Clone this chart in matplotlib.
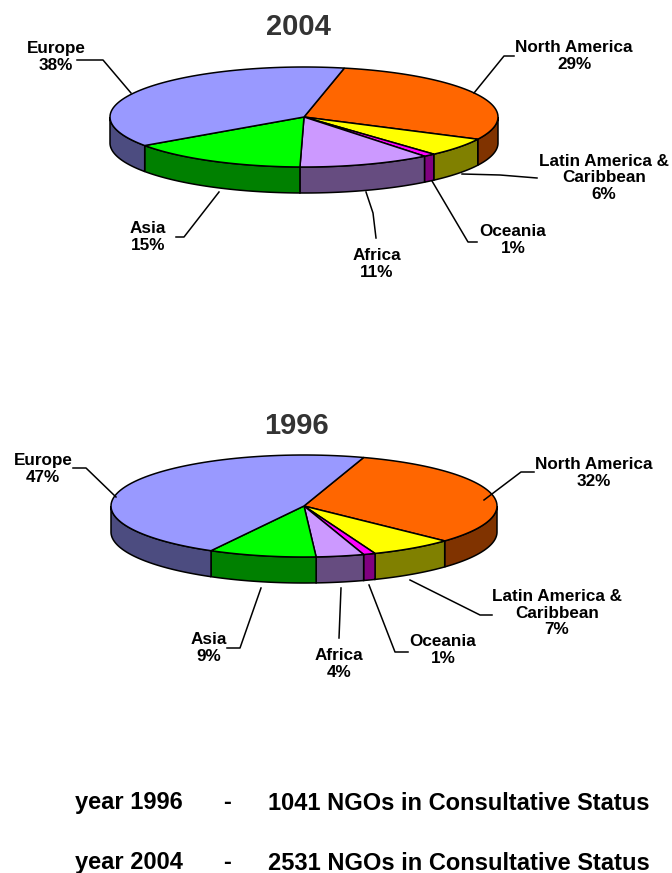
import numpy as np
import matplotlib
matplotlib.use('Agg')
import matplotlib.pyplot as plt
from matplotlib.patches import Polygon

plt.rcParams['font.family'] = ['Liberation Sans', 'DejaVu Sans']

# slices go clockwise starting at North America
regions = ['North America', 'Latin America &\nCaribbean', 'Oceania', 'Africa', 'Asia', 'Europe']
share_2004 = [29, 6, 1, 11, 15, 38]
share_1996 = [32, 7, 1, 4, 9, 47]
top_colors = ['#FF6600', '#FFFF00', '#FF00FF', '#CC99FF', '#00FF00', '#9999FF']
side_colors = ['#803300', '#808000', '#800080', '#664C80', '#008000', '#4C4C80']
years = ['1996', '2004']
ngo_counts = [1041, 2531]


def ell(cx, cy, rx, ry, deg, drop=0):
    a = np.radians(deg)
    return np.column_stack([cx + rx * np.cos(a), cy - ry * np.sin(a) + drop])


def pie3d(ax, shares, cx, cy, rx, ry, depth, start):
    t = start
    for share, top, side in zip(shares, top_colors, side_colors):
        t_end = t - share * 3.6
        # outer wall only for the front half (-180..0)
        lo, hi = max(t_end, -180), min(t, 0)
        if lo < hi:
            deg = np.linspace(hi, lo, 60)
            pts = np.vstack([ell(cx, cy, rx, ry, deg), ell(cx, cy, rx, ry, deg[::-1], depth)])
            ax.add_patch(Polygon(pts, closed=True, fc=side, ec='black', lw=1.1, zorder=1))
        deg = np.linspace(t, t_end, 80)
        pts = np.vstack([[cx, cy], ell(cx, cy, rx, ry, deg)])
        ax.add_patch(Polygon(pts, closed=True, fc=top, ec='black', lw=1.1, zorder=2))
        t = t_end


def labels(ax, shares, spots, leaders):
    for name, share, (x, y), line in zip(regions, shares, spots, leaders):
        ax.text(x, y, f'{name}\n{share}%', ha='center', va='center', fontsize=12.3,
                fontweight='bold', linespacing=1.15, zorder=4)
        xs, ys = zip(*line)
        ax.plot(xs, ys, color='black', lw=1.1, zorder=3)


fig = plt.figure(figsize=(6.72, 8.73), dpi=100)
ax = fig.add_axes([0, 0, 1, 1])
ax.set_xlim(0, 672)
ax.set_ylim(873, 0)
ax.axis('off')

# 2004
ax.text(298, 27, '2004', ha='center', va='center', fontsize=21, fontweight='bold', color='#333333')
pie3d(ax, share_2004, 304, 117, 194, 50, 26, 78)
labels(ax, share_2004,
       [(574, 56), (604, 178), (513, 240), (377, 264), (148, 237), (56, 57)],
       [[(474, 93), (504, 56), (514, 56)],
        [(462, 174), (500, 175), (537, 178)],
        [(432, 181), (468, 242), (477, 242)],
        [(366, 192), (373, 213), (376, 238)],
        [(219, 192), (184, 237), (176, 237)],
        [(131, 93), (103, 60), (77, 60)]])

# 1996
ax.text(296, 426, '1996', ha='center', va='center', fontsize=21, fontweight='bold', color='#333333')
pie3d(ax, share_1996, 304, 506, 193, 51, 26, 72)
labels(ax, share_1996,
       [(594, 473), (557, 613), (443, 650), (339, 664), (209, 648), (43, 469)],
       [[(484, 500), (521, 472), (534, 472)],
        [(410, 580), (480, 615), (492, 615)],
        [(369, 585), (395, 652), (408, 652)],
        [(341, 588), (339, 638)],
        [(261, 588), (240, 648), (227, 648)],
        [(116, 497), (86, 468), (73, 468)]])

for yr, n, y in zip(years, ngo_counts, [803, 863]):
    ax.text(75, y, f'year {yr}', ha='left', va='center', fontsize=17, fontweight='bold')
    ax.text(227, y, '-', ha='center', va='center', fontsize=17, fontweight='bold')
    ax.text(268, y, f'{n} NGOs in Consultative Status', ha='left', va='center',
            fontsize=17, fontweight='bold')

fig.savefig('out.png', dpi=100)
